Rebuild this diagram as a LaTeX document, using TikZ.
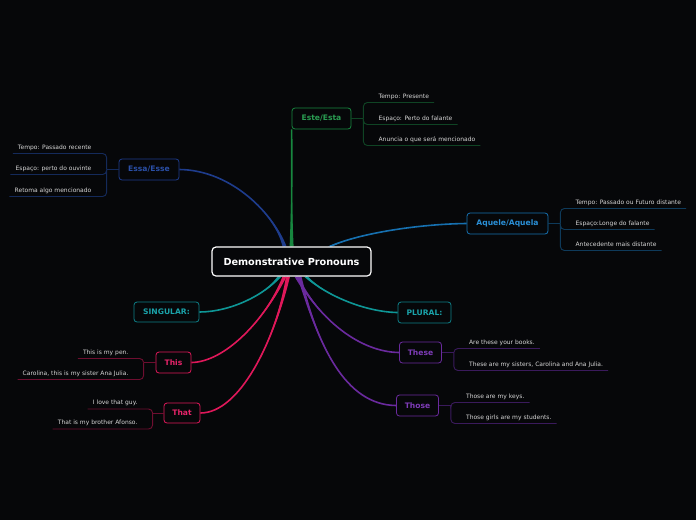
\documentclass[tikz,border=0pt]{standalone}
\usepackage{fontspec}
\setmainfont{DejaVu Sans}
\pgfdeclarelayer{back}\pgfdeclarelayer{bg}\pgfsetlayers{back,bg,main}
\definecolor{bgc}{HTML}{060709}
\definecolor{txt}{HTML}{D6D6D6}
\definecolor{estec}{HTML}{17873F}\definecolor{estet}{HTML}{2A9D52}\definecolor{estel}{HTML}{0F4424}
\definecolor{essac}{HTML}{1E3C8C}\definecolor{essat}{HTML}{2B50A8}\definecolor{essal}{HTML}{142A5A}
\definecolor{aqc}{HTML}{1670B0}\definecolor{aqt}{HTML}{2A8FD6}\definecolor{aql}{HTML}{0E3A5A}
\definecolor{tealc}{HTML}{0E9696}\definecolor{tealt}{HTML}{1AA3AA}\definecolor{tealb}{HTML}{0E8088}
\definecolor{crc}{HTML}{E0185A}\definecolor{crt}{HTML}{E8246A}\definecolor{crl}{HTML}{6E0E30}
\definecolor{puc}{HTML}{6A2A9E}\definecolor{put}{HTML}{7E3CB8}\definecolor{pul}{HTML}{3A1A5C}
\tikzset{
  topic/.style={draw, rounded corners=3pt, fill=bgc, line width=0.8pt, inner sep=0pt,
    font=\bfseries\fontsize{7.6}{8}\selectfont},
  rootbox/.style={draw=white, rounded corners=4pt, fill=bgc, line width=1.2pt, inner sep=0pt,
    text=white, font=\bfseries\fontsize{9.7}{10}\selectfont, minimum width=159pt, minimum height=29pt},
  ctext/.style={text=txt, inner xsep=5pt, inner ysep=0pt, font=\fontsize{6}{7}\selectfont},
  kidline/.style={line width=0.9pt},
}
\newcommand\taperline[5]{%
  \fill[#1] ([xshift=-2pt]#2) .. controls (#3) and (#4) .. (#5)
     .. controls (#4) and (#3) .. ([xshift=2pt]#2) -- cycle;
  \draw[#1, line width=1.6pt] (#2) .. controls (#3) and (#4) .. (#5);}
\newcommand\rkid[5]{%
  \node[ctext, anchor=base west] (#3) at ([xshift=10pt,yshift={4.5pt-(#4)*1pt}]#2) {#5};
  \draw[#1, kidline, rounded corners=4pt] (#2) |- ([yshift=-4.5pt]#3.base east);}
\newcommand\lkid[5]{%
  \node[ctext, anchor=base east] (#3) at ([xshift=-10pt,yshift={4.5pt-(#4)*1pt}]#2) {#5};
  \draw[#1, kidline, rounded corners=4pt] (#2) |- ([yshift=-4.5pt]#3.base west);}
\begin{document}
\begin{tikzpicture}[x=1pt,y=-1pt]
\begin{pgfonlayer}{back}
  \fill[bgc] (0,0) rectangle (696,520);
\end{pgfonlayer}
\useasboundingbox (0,0) rectangle (696,520);

\node[rootbox] (root) at (291.5,261.5) {Demonstrative Pronouns};

\node[topic, draw=estec, text=estet, minimum width=59pt, minimum height=21pt] (este) at (321.5,118.5) {Este/Esta};
\node[topic, draw=essac, text=essat, minimum width=60pt, minimum height=21pt] (essa) at (149,169.5) {Essa/Esse};
\node[topic, draw=aqc, text=aqt, minimum width=81pt, minimum height=21pt] (aquele) at (507.5,223.5) {Aquele/Aquela};
\node[topic, draw=tealb, text=tealt, minimum width=65pt, minimum height=20pt] (singular) at (166.5,312) {SINGULAR:};
\node[topic, draw=tealb, text=tealt, minimum width=53pt, minimum height=21pt] (plural) at (424.5,312.5) {PLURAL:};
\node[topic, draw=crc, text=crt, minimum width=35pt, minimum height=21pt] (this) at (173.5,362.5) {This};
\node[topic, draw=crc, text=crt, minimum width=36pt, minimum height=20pt] (that) at (182,413) {That};
\node[topic, draw=puc, text=put, minimum width=42pt, minimum height=21pt] (these) at (420.5,352.5) {These};
\node[topic, draw=puc, text=put, minimum width=42pt, minimum height=21pt] (those) at (417.5,405.5) {Those};

\coordinate (sEste) at (este.south west |- root.north);
\coordinate (sEssa) at ([xshift=-7pt]root.north);
\coordinate (sAq) at ([xshift=38.5pt]root.north);
\coordinate (sSing) at ([xshift=-12pt]root.south);
\coordinate (sThis) at ([xshift=-7pt]root.south);
\coordinate (sThat) at ([xshift=-3.5pt]root.south);
\coordinate (sThese) at ([xshift=5pt]root.south);
\coordinate (sThose) at ([xshift=8pt]root.south);
\coordinate (sPlur) at ([xshift=14.5pt]root.south);

\begin{pgfonlayer}{bg}
  \taperline{estec}{sEste}{291.5,200}{292,160}{este.south west}
  \taperline{essac}{sEssa}{275,215}{232,170}{essa.east}
  \taperline{aqc}{sAq}{360,233}{420,224}{aquele.west}
  \taperline{tealc}{sSing}{265,295}{230,312}{singular.east}
  \taperline{tealc}{sPlur}{325,295}{365,312}{plural.west}
  \taperline{crc}{sThis}{265,320}{225,362}{this.east}
  \taperline{crc}{sThat}{275,340}{240,413}{that.east}
  \taperline{puc}{sThese}{320,320}{360,352}{these.west}
  \taperline{puc}{sThose}{318,345}{345,405}{those.west}
\end{pgfonlayer}

% Este/Esta
\draw[estel, kidline] (este.east) -- ++(12pt,0) coordinate (ej);
\rkid{estel}{ej}{e1}{-16}{Tempo: Presente}
\rkid{estel}{ej}{e2}{6}{Espaço: Perto do falante}
\rkid{estel}{ej}{e3}{27}{Anuncia o que será mencionado}

% Essa/Esse
\draw[essal, kidline] (essa.west) -- ++(-12pt,0) coordinate (sj);
\lkid{essal}{sj}{s1}{-16}{Tempo: Passado recente}
\lkid{essal}{sj}{s2}{5}{Espaço: perto do ouvinte}
\lkid{essal}{sj}{s3}{27}{Retoma algo mencionado}

% Aquele/Aquela
\draw[aql, kidline] (aquele.east) -- ++(12pt,0) coordinate (aj);
\rkid{aql}{aj}{a1}{-15}{Tempo: Passado ou Futuro distante}
\rkid{aql}{aj}{a2}{6}{Espaço:Longe do falante}
\rkid{aql}{aj}{a3}{27}{Antecedente mais distante}

% This
\draw[crl, kidline] (this.west) -- ++(-12pt,0) coordinate (tj);
\lkid{crl}{tj}{t1}{-4}{This is my pen.}
\lkid{crl}{tj}{t2}{17}{Carolina, this is my sister Ana Julia.}

% That
\draw[crl, kidline] (that.west) -- ++(-11pt,0) coordinate (hj);
\lkid{crl}{hj}{h1}{-4}{I love that guy.}
\lkid{crl}{hj}{h2}{16}{That is my brother Afonso.}

% These
\draw[pul, kidline] (these.east) -- ++(12pt,0) coordinate (ij);
\rkid{pul}{ij}{i1}{-4}{Are these your books.}
\rkid{pul}{ij}{i2}{18}{These are my sisters, Carolina and Ana Julia.}

% Those
\draw[pul, kidline] (those.east) -- ++(12pt,0) coordinate (oj);
\rkid{pul}{oj}{o1}{-3}{Those are my keys.}
\rkid{pul}{oj}{o2}{18}{Those girls are my students.}
\end{tikzpicture}
\end{document}
